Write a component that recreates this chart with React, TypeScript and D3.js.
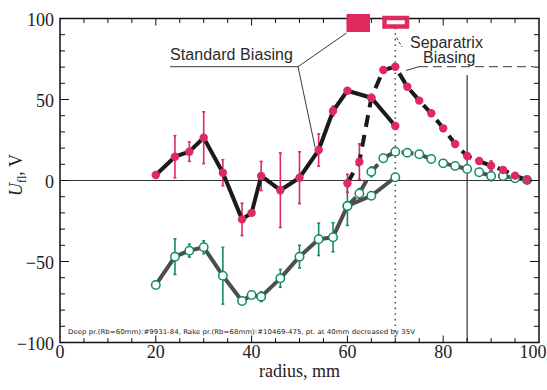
import React from 'react';
import * as d3 from 'd3';

// standard biasing (deep probe, red) and rake probe (green)
const stdRadius = [20, 24, 27, 30, 34, 38, 40, 42, 46, 50, 54, 57, 60, 65, 70];
const stdRed = [3.4, 14.7, 17.8, 26.4, 4.8, -24, -20, 2.8, -6, 1.7, 18.8, 42.9, 55.4, 51.1, 33.6];
const stdRedErr = [0, 13, 6, 16, 8, 10, 0, 9, 23, 16, 10, 3, 0, 2, 2];
const stdGreen = [-64.5, -47, -43.3, -41.2, -58.8, -74.4, -70.7, -71.7, -60.4, -47, -36.3, -35, -15.7, -9.4, 2];
const stdGreenErr = [0, 11, 4, 4, 17.5, 0, 0, 3, 5.5, 7, 10, 9, 12, 0, 0];

// separatrix biasing
const sepRadius = [60, 62.5, 65, 67.5, 70, 72.5, 75, 77.5, 80, 82.5, 85, 87.5, 90, 92.5, 95, 97.5];
const sepRed = [-1.7, 11.6, 51, 68.2, 70.2, 57.9, 49.3, 41.5, 32.2, 22.5, 15.1, 12, 9.1, 6.5, 3, 0.3];
const sepRedErr = [5.5, 11, 0, 0, 0, 0, 0, 0, 0, 0, 0, 0, 3, 0, 0, 0];
const sepGreen = [-15.7, -8, 5.4, 13.7, 17.8, 17.2, 16.2, 13.3, 10.6, 9, 7.1, 5.1, 2.8, 2.8, 1.4, 0.3];
const sepGreenErr = [0, 3, 3, 0, 0, 0, 0, 0, 0, 0, 0, 0, 3, 0, 0, 0];

const xTickLabels = [0, 20, 40, 60, 80, 100];
const yTickLabels = [-100, -50, 0, 50, 100];
const separatrixR = 70;
const limiterR = 85;

const RED = '#de2a5f';
const GREEN = '#138a6c';
const SERIF = '"Liberation Serif", "Times New Roman", serif';
const SANS = '"Liberation Sans", Arial, sans-serif';

const margin = {left: 60, right: 8, top: 18.5, bottom: 47.5};
const W = 547, H = 390;

export default function App() {
  const x = d3.scaleLinear().domain([0, 100]).range([margin.left, W - margin.right]);
  const y = d3.scaleLinear().domain([-100, 100]).range([H - margin.bottom, margin.top]);

  const line = d3.line<[number, number]>().x(d => x(d[0])).y(d => y(d[1]));
  const zip = (r: number[], v: number[]) => r.map((d, i) => [d, v[i]] as [number, number]);

  const x0 = x(0), x1 = x(100), y0 = y(-100), y1 = y(100);

  const errBars = (r: number[], v: number[], e: number[], color: string, key: string) =>
    r.map((d, i) => e[i] > 0 ? (
      <g key={`${key}${i}`} stroke={color} strokeWidth={1.6}>
        <line x1={x(d)} x2={x(d)} y1={y(v[i] - e[i])} y2={y(v[i] + e[i])}/>
        <line x1={x(d) - 1.5} x2={x(d) + 1.5} y1={y(v[i] - e[i])} y2={y(v[i] - e[i])}/>
        <line x1={x(d) - 1.5} x2={x(d) + 1.5} y1={y(v[i] + e[i])} y2={y(v[i] + e[i])}/>
      </g>
    ) : null);

  const minorX = d3.range(5, 100, 5);
  const minorY = d3.range(-90, 100, 10);

  return (
    <svg width={W} height={H} style={{position: 'absolute', left: 0, top: 0}}>
      <rect width={W} height={H} fill="#fff"/>

      {/* reference lines */}
      <line x1={x0} x2={x1} y1={y(0)} y2={y(0)} stroke="#333" strokeWidth={1}/>
      <line x1={x(limiterR)} x2={x(limiterR)} y1={75} y2={y0} stroke="#333" strokeWidth={1.2}/>
      <line x1={x(separatrixR)} x2={x(separatrixR)} y1={22} y2={y0} stroke="#555" strokeWidth={1.6}
            strokeDasharray="1.6,4"/>

      {/* error bars */}
      {errBars(stdRadius, stdGreen, stdGreenErr, GREEN, 'sge')}
      {errBars(sepRadius, sepGreen, sepGreenErr, GREEN, 'pge')}
      {errBars(stdRadius, stdRed, stdRedErr, RED, 'sre')}
      {errBars(sepRadius, sepRed, sepRedErr, RED, 'pre')}

      {/* lines */}
      <path d={line(zip(stdRadius, stdGreen)) || ''} fill="none" stroke="#4d4d4d" strokeWidth={4}
            strokeLinejoin="round"/>
      <path d={line(zip(sepRadius, sepGreen)) || ''} fill="none" stroke="#4d4d4d" strokeWidth={4}
            strokeDasharray="12,8"/>
      <path d={line(zip(stdRadius, stdRed)) || ''} fill="none" stroke="#1a1a1a" strokeWidth={4}
            strokeLinejoin="round"/>
      <path d={line(zip(sepRadius, sepRed)) || ''} fill="none" stroke="#1a1a1a" strokeWidth={4}
            strokeDasharray="12,8"/>

      {/* markers */}
      {stdRadius.map((d, i) => (
        <circle key={`sg${i}`} cx={x(d)} cy={y(stdGreen[i])} r={4.2} fill="#fff" stroke={GREEN} strokeWidth={1.5}/>
      ))}
      {sepRadius.map((d, i) => (
        <circle key={`pg${i}`} cx={x(d)} cy={y(sepGreen[i])} r={4.2} fill="#fff" stroke={GREEN} strokeWidth={1.5}/>
      ))}
      {stdRadius.map((d, i) => (
        <circle key={`sr${i}`} cx={x(d)} cy={y(stdRed[i])} r={4.2} fill={RED}/>
      ))}
      {sepRadius.map((d, i) => (
        <circle key={`pr${i}`} cx={x(d)} cy={y(sepRed[i])} r={4.2} fill={RED}/>
      ))}

      {/* frame and ticks */}
      <rect x={x0} y={y1} width={x1 - x0} height={y0 - y1} fill="none" stroke="#111" strokeWidth={1.5}/>
      <g stroke="#111" strokeWidth={1}>
        {minorX.map(v => {
          const len = v % 20 === 0 ? 7 : 4.5;
          return (
            <g key={`tx${v}`}>
              <line x1={x(v)} x2={x(v)} y1={y0} y2={y0 - len}/>
              <line x1={x(v)} x2={x(v)} y1={y1} y2={y1 + len}/>
            </g>
          );
        })}
        {minorY.map(v => {
          const len = v % 50 === 0 ? 9 : 5;
          return (
            <g key={`ty${v}`}>
              <line x1={x0} x2={x0 + len} y1={y(v)} y2={y(v)}/>
              <line x1={x1} x2={x1 - len} y1={y(v)} y2={y(v)}/>
            </g>
          );
        })}
      </g>

      {/* tick labels */}
      <g fontFamily={SERIF} fontSize={18} fill="#222">
        {xTickLabels.map(v => (
          <text key={`lx${v}`} x={Math.min(x(v), W - 14)} y={358} textAnchor="middle">{v}</text>
        ))}
        {yTickLabels.map(v => (
          <text key={`ly${v}`} x={54} y={y(v) + 7} textAnchor="end">{v < 0 ? `\u2212${-v}` : v}</text>
        ))}
        <text x={(x0 + x1) / 2} y={377} textAnchor="middle">radius, mm</text>
        <text transform="translate(22,175) rotate(-90)" textAnchor="middle">
          <tspan fontStyle="italic">U</tspan>
          <tspan fontSize={12} dy={4}>fl</tspan>
          <tspan dy={-4}>, V</tspan>
        </text>
      </g>

      {/* legend boxes */}
      <rect x={346.5} y={14} width={23.5} height={18} fill={RED}/>
      <rect x={384.5} y={18} width={22.5} height={8.5} fill="#fff" stroke={RED} strokeWidth={4.5}/>

      {/* annotations */}
      <g stroke="#222" strokeWidth={0.9} fill="none">
        <line x1={170} x2={298} y1={66.7} y2={66.7}/>
        <line x1={298} x2={346.5} y1={66.7} y2={33}/>
        <line x1={298} x2={315} y1={66.7} y2={147}/>
        <line x1={396.5} x2={402} y1={37.5} y2={47} strokeDasharray="3,2"/>
        <line x1={406} x2={419} y1={70.5} y2={66.7}/>
        <line x1={419} x2={534} y1={66.7} y2={66.7} strokeDasharray="9,5"/>
      </g>
      <g fontFamily={SANS} fontSize={16} fill="#2a2a2a">
        <text x={170} y={60} textLength={123} lengthAdjust="spacing">Standard  Biasing</text>
        <text x={410} y={47.5}>Separatrix</text>
        <text x={423} y={62.5}>Biasing</text>
      </g>
      <text x={68} y={334} fontFamily='"DejaVu Sans", sans-serif' fontSize={6.6} fill="#222"
            textLength={347} lengthAdjust="spacingAndGlyphs">
        Deep pr.(Rb=60mm):#9931-84, Rake pr.(Rb=68mm):#10469-475, pt. at 40mm decreased by 35V
      </text>
    </svg>
  );
}
